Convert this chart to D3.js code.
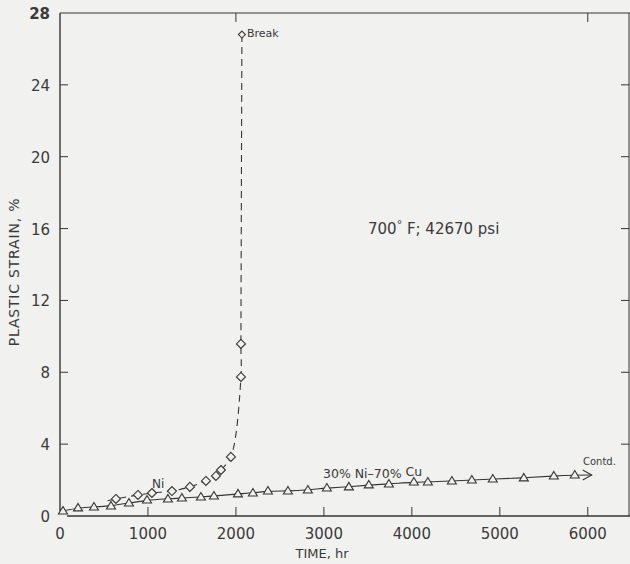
<!DOCTYPE html>
<html>
<head>
<meta charset="utf-8">
<script src="https://cdn.jsdelivr.net/npm/d3@7"></script>
<style>
  body { margin: 0; background: #f1f1ef; }
  text { font-family: "DejaVu Sans", sans-serif; fill: #3a3a3a; }
</style>
</head>
<body>
<div id="chart"></div>
<script>
var width = 630;
var height = 564;

// Ni (diamonds, dashed curve)
var niTime   = [636, 886, 1045, 1273, 1477, 1659, 1773, 1830, 1943, 2057, 2057, 2068];
var niStrain = [0.95, 1.17, 1.28, 1.39, 1.62, 1.95, 2.23, 2.56, 3.29, 7.74, 9.58, 26.8];
var niLeadIn = [540, 0.85];

// 30% Ni-70% Cu (triangles, solid line)
var cuTime   = [34, 205, 386, 580, 784, 989, 1227, 1386, 1602, 1750, 2023, 2193, 2364, 2591, 2818, 3034,
                3284, 3511, 3739, 4023, 4182, 4455, 4682, 4920, 5273, 5614, 5852];
var cuStrain = [0.28, 0.45, 0.50, 0.56, 0.72, 0.89, 0.95, 1.0, 1.06, 1.11, 1.23, 1.28, 1.39, 1.39, 1.45, 1.56,
                1.62, 1.73, 1.78, 1.89, 1.89, 1.95, 2.0, 2.06, 2.12, 2.23, 2.28];
var cuArrowEnd = [6045, 2.28];

var xTicks = [0, 1000, 2000, 3000, 4000, 5000, 6000];
var yTicks = [0, 4, 8, 12, 16, 20, 24, 28];
var topTicks = [2000, 6000];

var x = d3.scaleLinear().domain([0, 6480]).range([60, 630]);
var y = d3.scaleLinear().domain([0, 28]).range([516, 13]);

var ink = "#353535";

var svg = d3.select("#chart")
            .append("svg")
            .attr("width", width)
            .attr("height", height);

svg.append("rect").attr("width", width).attr("height", height).attr("fill", "#f1f1ef");

// frame
svg.append("line")  // left
    .attr("x1", x(0)).attr("x2", x(0))
    .attr("y1", y(28)).attr("y2", y(0) - 5)
    .attr("stroke", ink).attr("stroke-width", 1.4);
svg.append("line")  // bottom
    .attr("x1", x(0) + 7).attr("x2", width)
    .attr("y1", y(0)).attr("y2", y(0))
    .attr("stroke", ink).attr("stroke-width", 1.4);
svg.append("line")  // top
    .attr("x1", x(0)).attr("x2", width)
    .attr("y1", y(28)).attr("y2", y(28))
    .attr("stroke", ink).attr("stroke-width", 1.2);
svg.append("line")  // right
    .attr("x1", 629).attr("x2", 629)
    .attr("y1", y(28)).attr("y2", y(0))
    .attr("stroke", ink).attr("stroke-width", 1);

// ticks
svg.selectAll(".xtick")
    .data(xTicks.filter(d => d > 0))
    .enter().append("line")
    .attr("x1", d => x(d)).attr("x2", d => x(d))
    .attr("y1", y(0)).attr("y2", y(0) - 9)
    .attr("stroke", ink).attr("stroke-width", 1);
svg.selectAll(".ttick")
    .data(topTicks)
    .enter().append("line")
    .attr("x1", d => x(d)).attr("x2", d => x(d))
    .attr("y1", y(28)).attr("y2", y(28) + 9)
    .attr("stroke", ink).attr("stroke-width", 1);
svg.selectAll(".ytick")
    .data(yTicks.filter(d => d > 0 && d < 28))
    .enter().append("line")
    .attr("x1", x(0)).attr("x2", x(0) + 8)
    .attr("y1", d => y(d)).attr("y2", d => y(d))
    .attr("stroke", ink).attr("stroke-width", 1);
svg.selectAll(".rtick")
    .data(yTicks.filter(d => d > 0 && d < 28))
    .enter().append("line")
    .attr("x1", 629).attr("x2", 621)
    .attr("y1", d => y(d)).attr("y2", d => y(d))
    .attr("stroke", ink).attr("stroke-width", 1);

// tick labels
svg.selectAll(".xlab")
    .data(xTicks)
    .enter().append("text")
    .attr("x", d => x(d))
    .attr("y", y(0) + 23)
    .attr("text-anchor", "middle")
    .style("font-size", "15px")
    .text(d => d);
svg.selectAll(".ylab")
    .data(yTicks)
    .enter().append("text")
    .attr("x", 50)
    .attr("y", d => y(d) + 6)
    .attr("text-anchor", "end")
    .style("font-size", "15px")
    .style("font-weight", d => d === 28 ? "bold" : "normal")
    .text(d => d);

// axis titles
svg.append("text")
    .attr("x", 322).attr("y", 558)
    .attr("text-anchor", "middle")
    .style("font-size", "13px")
    .text("TIME, hr");
svg.append("text")
    .attr("transform", "translate(19,272) rotate(-90)")
    .attr("text-anchor", "middle")
    .style("font-size", "14px")
    .style("letter-spacing", "0.8px")
    .text("PLASTIC STRAIN, %");

// Ni curve
var niPts = [niLeadIn].concat(niTime.map((t, i) => [t, niStrain[i]]));
var niLine = d3.line()
    .x(d => x(d[0]))
    .y(d => y(d[1]))
    .curve(d3.curveCatmullRom.alpha(0.5));
svg.append("path")
    .attr("d", niLine(niPts))
    .attr("fill", "none")
    .attr("stroke", ink)
    .attr("stroke-width", 1.1)
    .attr("stroke-dasharray", "7,5");

// Cu line
var cuPts = cuTime.map((t, i) => [t, cuStrain[i]]).concat([cuArrowEnd]);
var cuLine = d3.line()
    .x(d => x(d[0]))
    .y(d => y(d[1]))
    .curve(d3.curveBasis);
svg.append("path")
    .attr("d", cuLine(cuPts))
    .attr("fill", "none")
    .attr("stroke", ink)
    .attr("stroke-width", 1.1);
// arrow head
var ax = x(cuArrowEnd[0]), ay = y(cuArrowEnd[1]);
svg.append("path")
    .attr("d", "M" + (ax - 9) + "," + (ay - 5) + "L" + ax + "," + ay + "L" + (ax - 9) + "," + (ay + 5))
    .attr("fill", "none")
    .attr("stroke", ink)
    .attr("stroke-width", 1.1);

// markers
svg.selectAll(".tri")
    .data(cuTime.map((t, i) => [t, cuStrain[i]]))
    .enter().append("path")
    .attr("transform", d => "translate(" + x(d[0]) + "," + y(d[1]) + ")")
    .attr("d", "M0,-4.5L4.5,3L-4.5,3Z")
    .attr("fill", "#f1f1ef")
    .attr("stroke", ink)
    .attr("stroke-width", 1.1);

svg.selectAll(".dia")
    .data(niTime.map((t, i) => [t, niStrain[i]]))
    .enter().append("path")
    .attr("transform", d => "translate(" + x(d[0]) + "," + y(d[1]) + ")")
    .attr("d", (d, i) => i === niTime.length - 1 ? "M0,-3.5L3.5,0L0,3.5L-3.5,0Z" : "M0,-4.5L4.5,0L0,4.5L-4.5,0Z")
    .attr("fill", "#f1f1ef")
    .attr("stroke", ink)
    .attr("stroke-width", 1.1);

// annotations
svg.append("text")
    .attr("x", x(niTime[niTime.length - 1]) + 5)
    .attr("y", y(niStrain[niStrain.length - 1]) + 2)
    .style("font-size", "11px")
    .text("Break");
svg.append("text")
    .attr("x", 152).attr("y", 488)
    .style("font-size", "12px")
    .text("Ni");
var cuLab = svg.append("text")
    .attr("x", 323).attr("y", 478)
    .style("font-size", "12.5px");
cuLab.append("tspan").text("30%  Ni\u201370% ");
cuLab.append("tspan").attr("dy", -2).text("Cu");
svg.append("text")
    .attr("x", 583).attr("y", 465)
    .style("font-size", "10px")
    .text("Contd.");

var cond = svg.append("text")
    .attr("x", 368).attr("y", 234)
    .style("font-size", "15px");
cond.append("tspan").text("700");
cond.append("tspan").attr("dy", -6).style("font-size", "11px").text("\u00b0");
cond.append("tspan").attr("dy", 6).text(" F; 42670 psi");
</script>
</body>
</html>
